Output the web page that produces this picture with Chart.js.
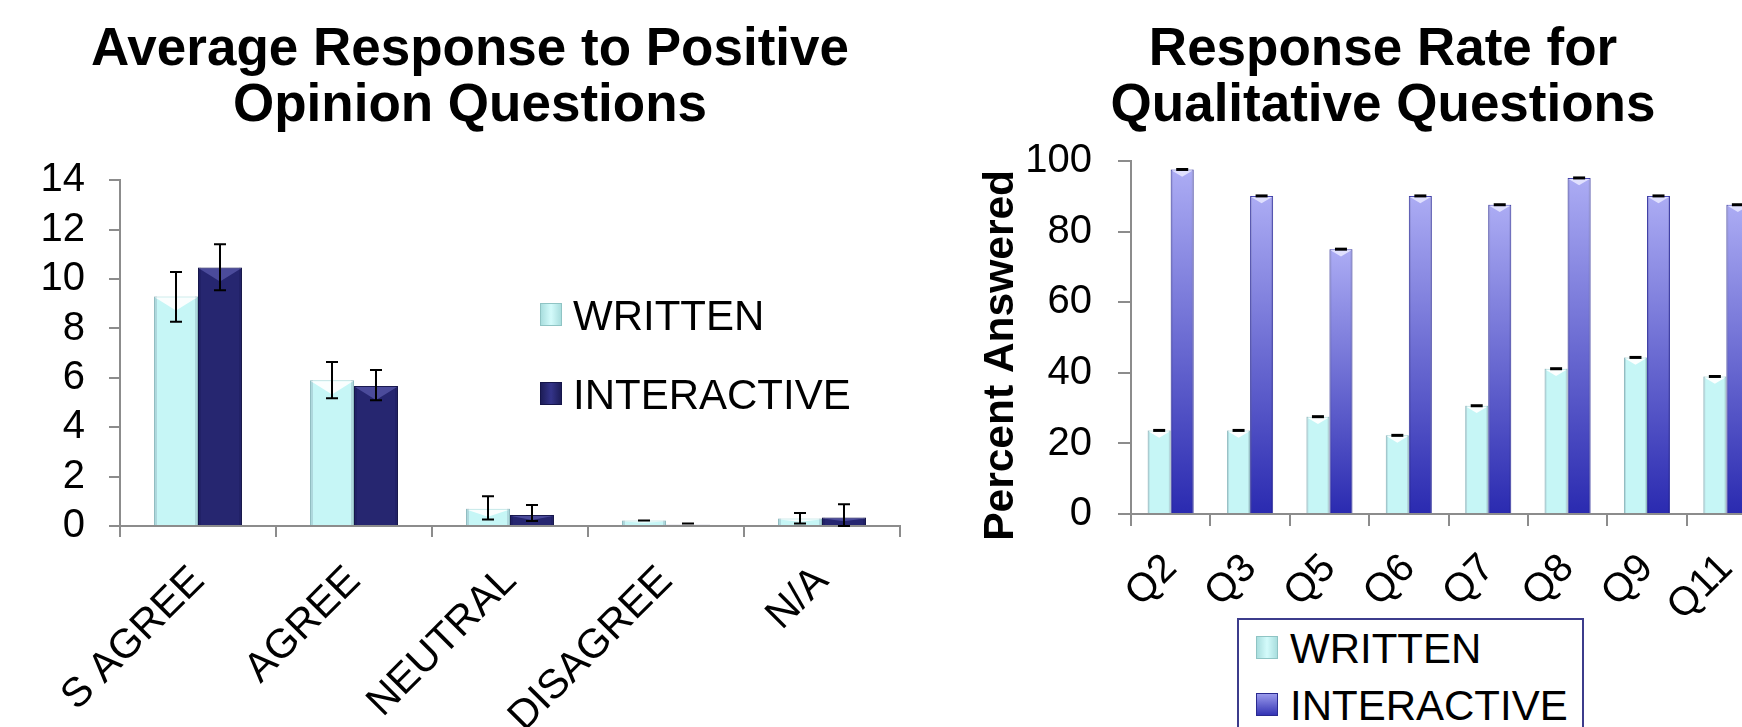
<!DOCTYPE html>
<html>
<head>
<meta charset="utf-8">
<script src="https://cdn.jsdelivr.net/npm/chart.js@4"></script>
<style>
  html, body { margin: 0; padding: 0; background: #fff; }
  body { width: 1742px; height: 727px; overflow: hidden; position: relative; font-family: "Liberation Sans", Arial, sans-serif; }
  canvas { position: absolute; }
  #leftChart { left: 0; top: 0; }
  #rightChart { left: 960px; top: 0; }
  .lg { position: absolute; font-size: 42px; color: #000; line-height: 1; }
  .sw { position: absolute; width: 22px; height: 23px; box-sizing: border-box; }
  #rightLegend { position: absolute; left: 1237px; top: 618px; width: 343px; height: 140px; border: 2px solid #3c3c8c; background: #fff; }
</style>
</head>
<body>
<canvas id="leftChart" width="940" height="800"></canvas>
<canvas id="rightChart" width="820" height="800"></canvas>

<!-- legend of left chart -->
<div class="sw" style="left:540px;top:303px;background:linear-gradient(90deg,#a9dede,#d4fbfb 50%,#a9dede);border:1px solid #8fc4c4"></div>
<div class="lg" style="left:573px;top:295px">WRITTEN</div>
<div class="sw" style="left:540px;top:382px;background:linear-gradient(90deg,#1d1d58,#34348a 50%,#1d1d58);border:1px solid #15154a"></div>
<div class="lg" style="left:573px;top:374px">INTERACTIVE</div>

<!-- legend of right chart -->
<div id="rightLegend"></div>
<div class="sw" style="left:1256px;top:636px;background:linear-gradient(90deg,#a9dede,#d4fbfb 50%,#a9dede);border:1px solid #8fc4c4"></div>
<div class="lg" style="left:1290px;top:628px">WRITTEN</div>
<div class="sw" style="left:1256px;top:693px;background:linear-gradient(180deg,#9a9aec,#3434b4);border:1px solid #2a2a90"></div>
<div class="lg" style="left:1290px;top:685px">INTERACTIVE</div>

<script>
// left chart: average response
var opinionLabels = ['S AGREE', 'AGREE', 'NEUTRAL', 'DISAGREE', 'N/A'];
var writtenAvg = [9.3, 5.9, 0.7, 0.22, 0.3];
var writtenLow = [8.27, 5.17, 0.26, 0.22, 0.1];
var writtenHigh = [10.29, 6.64, 1.2, 0.22, 0.53];
var interactiveAvg = [10.47, 5.67, 0.45, 0.05, 0.34];
var interactiveLow = [9.55, 5.09, 0.2, 0.1, 0];
var interactiveHigh = [11.41, 6.32, 0.85, 0.1, 0.88];

// right chart: response rate
var questionLabels = ['Q2', 'Q3', 'Q5', 'Q6', 'Q7', 'Q8', 'Q9', 'Q11'];
var writtenRate = [23.7, 23.7, 27.6, 22.3, 30.7, 41.2, 44.4, 39.0];
var interactiveRate = [97.7, 90.2, 75.1, 90.2, 87.7, 95.3, 90.2, 87.7];

var FONT = '"Liberation Sans", Arial, sans-serif';
var AXIS = '#8c8c8c';

// bevel look on the bars, then error bars (or just the caps)
var barDecor = {
    id: 'barDecor',
    afterDatasetsDraw: function(chart, args, opts) {
        var ctx = chart.ctx;
        var y = chart.scales.y;
        var area = chart.chartArea;
        chart.data.datasets.forEach(function(ds, di) {
            var meta = chart.getDatasetMeta(di);
            meta.data.forEach(function(bar, i) {
                var p = bar.getProps(['x', 'y', 'base', 'width'], true);
                var l = p.x - p.width / 2, r = p.x + p.width / 2;
                var h = p.base - p.y;
                ctx.save();
                ctx.beginPath();
                ctx.rect(area.left, area.top - 20, area.width, area.height + 20);
                ctx.clip();
                if (h > 2) {
                    var e = Math.min(3, p.width * 0.08);
                    ctx.fillStyle = 'rgba(0,0,40,0.12)';
                    ctx.fillRect(l, p.y, e, h);
                    ctx.fillRect(r - e, p.y, e, h);
                    var d = Math.min(p.width * 0.32, h * 0.5);
                    ctx.fillStyle = ds.chevron;
                    ctx.beginPath();
                    ctx.moveTo(l + 1, p.y + 1);
                    ctx.lineTo(r - 1, p.y + 1);
                    ctx.lineTo(p.x, p.y + d);
                    ctx.closePath();
                    ctx.fill();
                }
                ctx.restore();

                ctx.save();
                ctx.strokeStyle = '#000';
                if (opts.marksOnly) {
                    var yp = y.getPixelForValue(ds.data[i]);
                    ctx.lineWidth = 3;
                    ctx.beginPath();
                    ctx.moveTo(p.x - 6, yp);
                    ctx.lineTo(p.x + 6, yp);
                    ctx.stroke();
                } else {
                    var yl = y.getPixelForValue(ds.errLow[i]);
                    var yh = y.getPixelForValue(ds.errHigh[i]);
                    ctx.lineWidth = 2;
                    ctx.beginPath();
                    ctx.moveTo(p.x, yl);
                    ctx.lineTo(p.x, yh);
                    ctx.moveTo(p.x - 6, yl);
                    ctx.lineTo(p.x + 6, yl);
                    ctx.moveTo(p.x - 6, yh);
                    ctx.lineTo(p.x + 6, yh);
                    ctx.stroke();
                }
                ctx.restore();
            });
        });
    }
};

function blueGradient(c) {
    var chart = c.chart;
    var area = chart.chartArea;
    if (!area || c.type !== 'data') return '#6a6ad6';
    var top = chart.scales.y.getPixelForValue(c.parsed.y);
    var g = chart.ctx.createLinearGradient(0, top, 0, area.bottom);
    g.addColorStop(0, '#acacf4');
    g.addColorStop(1, '#2a2ab0');
    return g;
}

var leftConfig = {
    type: 'bar',
    data: {
        labels: opinionLabels,
        datasets: [{
            label: 'WRITTEN',
            data: writtenAvg,
            errLow: writtenLow,
            errHigh: writtenHigh,
            backgroundColor: '#c6f6f6',
            borderColor: '#a4d6d6',
            borderWidth: 1,
            chevron: 'rgba(255,255,255,0.9)'
        }, {
            label: 'INTERACTIVE',
            data: interactiveAvg,
            errLow: interactiveLow,
            errHigh: interactiveHigh,
            backgroundColor: '#262670',
            borderColor: '#1a1a50',
            borderWidth: 1,
            chevron: 'rgba(80,80,160,0.9)'
        }]
    },
    options: {
        responsive: false,
        animation: false,
        layout: { padding: { left: 40, right: 40, top: 0, bottom: 0 } },
        datasets: { bar: { categoryPercentage: 0.564, barPercentage: 1 } },
        plugins: {
            legend: { display: false },
            tooltip: { enabled: false },
            title: {
                display: true,
                text: ['Average Response to Positive', 'Opinion Questions'],
                color: '#000',
                font: { family: FONT, size: 53, weight: 'bold', lineHeight: 1.06 },
                padding: { top: 22, bottom: 46 }
            },
            barDecor: {}
        },
        scales: {
            x: {
                afterFit: function(s) { s.height = 274; },
                grid: { drawOnChartArea: false, color: AXIS, lineWidth: 2, tickLength: 11 },
                border: { color: AXIS, width: 2 },
                ticks: { color: '#000', font: { family: FONT, size: 41 }, minRotation: 45, maxRotation: 45, padding: 20 }
            },
            y: {
                min: 0, max: 14,
                afterFit: function(s) { s.width = 80; },
                grid: { drawOnChartArea: false, color: AXIS, lineWidth: 2, tickLength: 11 },
                border: { color: AXIS, width: 2 },
                ticks: { stepSize: 2, autoSkip: false, color: '#000', font: { family: FONT, size: 40 }, padding: 24 }
            }
        }
    },
    plugins: [barDecor]
};

var rightConfig = {
    type: 'bar',
    data: {
        labels: questionLabels,
        datasets: [{
            label: 'WRITTEN',
            data: writtenRate,
            backgroundColor: '#c6f6f6',
            borderColor: '#a4d6d6',
            borderWidth: 1,
            chevron: 'rgba(255,255,255,0.95)'
        }, {
            label: 'INTERACTIVE',
            data: interactiveRate,
            backgroundColor: blueGradient,
            borderColor: '#4a4ab8',
            borderWidth: 1,
            chevron: 'rgba(230,230,255,0.9)'
        }]
    },
    options: {
        responsive: false,
        animation: false,
        layout: { padding: { left: 37, right: 11, top: 0, bottom: 0 } },
        datasets: { bar: { categoryPercentage: 0.58, barPercentage: 1 } },
        plugins: {
            legend: { display: false },
            tooltip: { enabled: false },
            title: {
                display: true,
                text: ['Response Rate for', 'Qualitative Questions'],
                color: '#000',
                font: { family: FONT, size: 53, weight: 'bold', lineHeight: 1.06 },
                padding: { top: 22, bottom: 27 }
            },
            barDecor: { marksOnly: true }
        },
        scales: {
            x: {
                afterFit: function(s) { s.height = 286; },
                grid: { drawOnChartArea: false, color: AXIS, lineWidth: 2, tickLength: 12 },
                border: { color: AXIS, width: 2 },
                ticks: { color: '#000', font: { family: FONT, size: 40 }, minRotation: 45, maxRotation: 45, padding: 19 }
            },
            y: {
                min: 0, max: 100,
                afterFit: function(s) { s.width = 134; },
                title: {
                    display: true,
                    text: 'Percent Answered   ',
                    color: '#000',
                    font: { family: FONT, size: 42.5, weight: 'bold', lineHeight: 1 },
                    padding: { top: -17, bottom: 0 }
                },
                grid: { drawOnChartArea: false, color: AXIS, lineWidth: 2, tickLength: 13 },
                border: { color: AXIS, width: 2 },
                ticks: { stepSize: 20, autoSkip: false, color: '#000', font: { family: FONT, size: 40 }, padding: 26 }
            }
        }
    },
    plugins: [barDecor]
};

var chart = new Chart(document.getElementById('leftChart').getContext('2d'), leftConfig);
var chart2 = new Chart(document.getElementById('rightChart').getContext('2d'), rightConfig);
</script>
</body>
</html>
